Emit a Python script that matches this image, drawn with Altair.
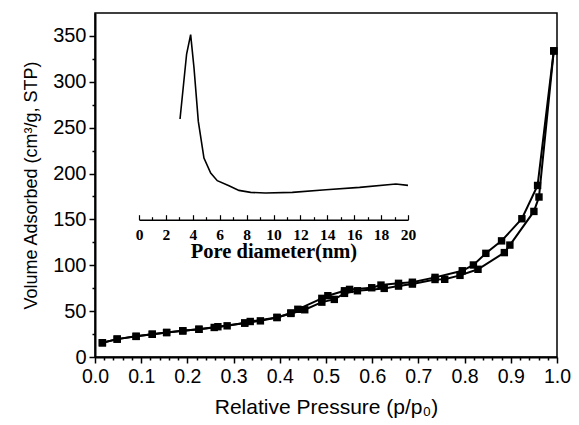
import altair as alt
import pandas as pd

# Adsorption branch (relative pressure, volume adsorbed cm3/g STP)
ads_p = [0.016, 0.048, 0.089, 0.124, 0.155, 0.19, 0.225, 0.258, 0.286, 0.324,
         0.358, 0.394, 0.424, 0.454, 0.491, 0.518, 0.54, 0.568, 0.626, 0.657,
         0.687, 0.736, 0.757, 0.79, 0.829, 0.886, 0.898, 0.95, 0.961, 0.993]
ads_v = [15.5, 19.5, 22.5, 24.8, 26.7, 28.5, 30.2, 32.2, 34.0, 37.0,
         39.4, 43.1, 47.5, 51.5, 59.8, 62.8, 69.4, 72.2, 74.8, 77.3,
         79.5, 84.5, 84.7, 89.0, 95.6, 113.8, 122.0, 158.7, 174.4, 333.7]

# Desorption branch
des_p = [0.993, 0.958, 0.924, 0.88, 0.846, 0.819, 0.795, 0.736, 0.687, 0.657,
         0.619, 0.599, 0.551, 0.54, 0.504, 0.491, 0.439, 0.424, 0.394, 0.336,
         0.324, 0.266, 0.225, 0.19, 0.155, 0.124, 0.089, 0.048, 0.016]
des_v = [333.7, 187.0, 150.7, 126.6, 113.0, 100.3, 94.0, 86.8, 81.5, 80.3,
         78.4, 75.5, 73.7, 72.2, 66.8, 63.9, 52.0, 48.0, 43.1, 38.7,
         37.0, 33.0, 30.2, 28.5, 26.7, 24.8, 22.5, 19.5, 15.5]

# Inset: pore size distribution
pore_d = [3.05, 3.54, 3.84, 4.09, 4.41, 4.83, 5.33, 5.82, 6.69, 7.43,
          8.3, 9.4, 11.4, 13.9, 16.4, 19.1, 20.0]
pore_v = [1.007, 1.657, 1.85, 1.517, 0.983, 0.617, 0.467, 0.39, 0.34, 0.293,
          0.273, 0.267, 0.273, 0.30, 0.323, 0.357, 0.343]

rows = []
for i, (p, v) in enumerate(zip(ads_p, ads_v)):
    rows.append({"p": p, "v": v, "branch": "adsorption", "idx": i})
for i, (p, v) in enumerate(zip(des_p, des_v)):
    rows.append({"p": p, "v": v, "branch": "desorption", "idx": i})
iso = pd.DataFrame(rows)
psd = pd.DataFrame({"d": pore_d, "dv": pore_v})

x_major = "abs(datum.value*10 - round(datum.value*10)) < 0.0001"
y_major = "abs(datum.value/50 - round(datum.value/50)) < 0.0001"
i_major = "abs(datum.value/2 - round(datum.value/2)) < 0.0001"

main = alt.Chart(iso).mark_line(
    color="black", strokeWidth=2,
    point=alt.OverlayMarkDef(shape="square", size=55, filled=True, color="black", opacity=1),
).encode(
    x=alt.X("p:Q", title="Relative Pressure (p/p\u2080)",
            scale=alt.Scale(domain=[0, 1], nice=False, zero=False),
            axis=alt.Axis(values=[i / 50 for i in range(51)],
                          labelExpr=f"{x_major} ? format(datum.value, '.1f') : ''",
                          tickSize={"condition": {"test": x_major, "value": 6}, "value": 3},
                          labelOverlap=False, labelFlush=False, labelPadding=4,
                          labelFontSize=19.5, titleFontSize=21, titlePadding=11,
                          grid=False)),
    y=alt.Y("v:Q", title="Volume Adsorbed (cm\u00b3/g, STP)",
            scale=alt.Scale(domain=[0, 375], nice=False, zero=True),
            axis=alt.Axis(values=[i * 25 for i in range(15)],
                          labelExpr=f"{y_major} ? format(datum.value, 'd') : ''",
                          tickSize={"condition": {"test": y_major, "value": 6}, "value": 3},
                          labelOverlap=False, labelFlush=False, labelPadding=3,
                          labelFontSize=20, titleFontSize=18, titlePadding=12,
                          grid=False)),
    detail="branch:N",
    order="idx:Q",
)

inset = alt.Chart(psd).mark_line(color="black", strokeWidth=1.6).encode(
    x=alt.X("d:Q", title="Pore diameter(nm)",
            scale=alt.Scale(domain=[0, 20], range=[44, 313], nice=False, zero=False),
            axis=alt.Axis(orient="top", offset=-206.7,
                          values=list(range(21)),
                          labelExpr=f"{i_major} ? format(datum.value, 'd') : ''",
                          tickSize={"condition": {"test": i_major, "value": 5}, "value": 3},
                          labelOverlap=False, labelFlush=False,
                          labelBaseline="top", labelPadding=-12.5,
                          labelFont="Liberation Serif", labelFontWeight="bold",
                          labelFontSize=15.5, labelColor="black",
                          titleFont="Liberation Serif", titleFontWeight="bold",
                          titleFontSize=20.5, titleColor="black",
                          titleY=32, titleBaseline="middle",
                          domainWidth=1.5, tickWidth=1.2, grid=False)),
    y=alt.Y("dv:Q", scale=alt.Scale(domain=[0, 1.85], range=[206.7, 21.7], nice=False, zero=False),
            axis=None),
)

chart = alt.layer(main, inset).resolve_scale(
    x="independent", y="independent"
).properties(
    width=462, height=344,
    autosize=alt.AutoSizeParams(type="none"),
    padding={"left": 87, "top": 5, "right": 14, "bottom": 64},
).configure_view(
    stroke="black", strokeWidth=1.5
).configure_axis(
    labelFont="Liberation Sans", titleFont="Liberation Sans",
    titleFontWeight="normal",
    labelColor="black", titleColor="black",
    domainColor="black", domainWidth=2, tickColor="black", tickWidth=1.5,
)

chart.save("out.html", embed_options={"renderer": "svg", "actions": False})
